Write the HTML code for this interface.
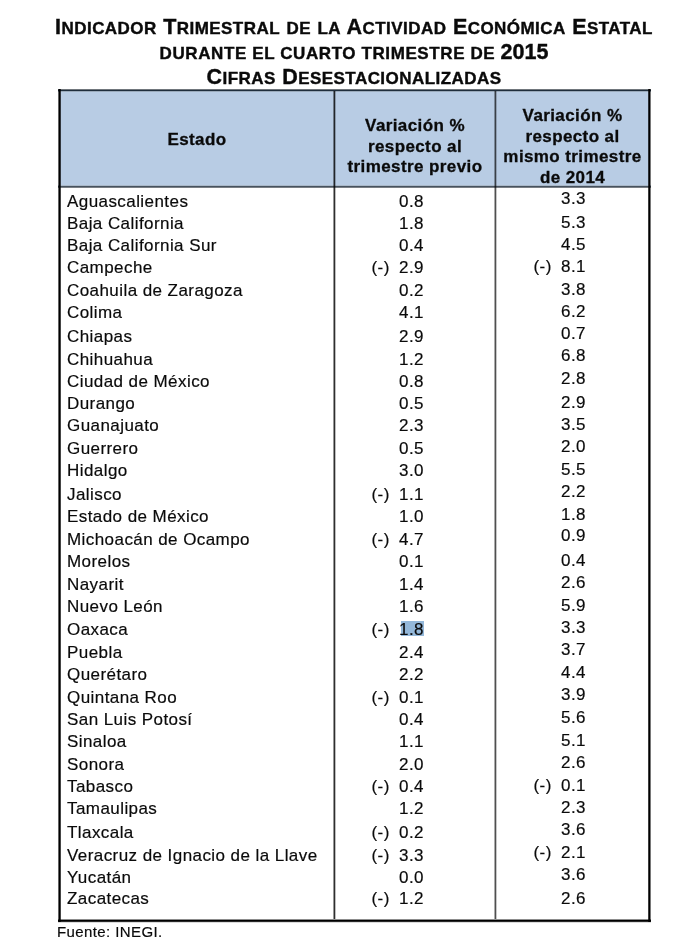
<!DOCTYPE html><html><head><meta charset="utf-8"><style>
html,body{margin:0;padding:0;background:#fff;}
body{width:700px;height:942px;position:relative;overflow:hidden;font-family:"Liberation Sans",sans-serif;color:#0a0a0a;}
.a{position:absolute;white-space:pre;line-height:1;}
#w{position:absolute;left:0;top:0;width:700px;height:942px;filter:blur(0.3px);}
.r{position:absolute;}
.t{font-weight:bold;color:#0a0a0a;-webkit-text-stroke:0.4px #0a0a0a;}
.h{font-weight:bold;font-size:17px;letter-spacing:0.4px;color:#0a0a0a;-webkit-text-stroke:0.3px #0a0a0a;text-align:center;}
.n{font-size:17px;letter-spacing:0.43px;-webkit-text-stroke:0.18px currentColor;}

</style></head><body>
<div class="r" style="left:60px;top:91px;width:589px;height:95px;background:#b8cce4"></div>
<div class="r" style="left:58px;top:89px;width:593px;height:3px;background:linear-gradient(180deg,#70767c 0px 1px,#1e2d3c 1px 2px,#9aaabb 2px 3px)"></div>
<div class="r" style="left:58px;top:185px;width:593px;height:3px;background:linear-gradient(180deg,#aab8c8 0px 1px,#46525f 1px 2px,#7a7f85 2px 3px)"></div>
<div class="r" style="left:58px;top:919px;width:593px;height:4px;background:linear-gradient(180deg,rgba(0,0,0,0.45) 0px 1px,rgba(0,0,0,1) 1px 2px,rgba(0,0,0,0.84) 2px 3px,rgba(0,0,0,0.14) 3px 4px)"></div>
<div class="r" style="left:333px;top:91px;width:3px;height:828px;background:linear-gradient(90deg,rgba(0,0,0,0.41) 0px 1px,rgba(0,0,0,0.82) 1px 2px,rgba(0,0,0,0.25) 2px 3px)"></div>
<div class="r" style="left:494px;top:91px;width:3px;height:828px;background:linear-gradient(90deg,rgba(0,0,0,0.33) 0px 1px,rgba(0,0,0,0.69) 1px 2px,rgba(0,0,0,0.22) 2px 3px)"></div>
<div class="r" style="left:58px;top:89px;width:3px;height:833px;background:linear-gradient(90deg,rgba(0,0,0,0.61) 0px 1px,rgba(0,0,0,1) 1px 2px,rgba(0,0,0,0.73) 2px 3px)"></div>
<div class="r" style="left:648px;top:89px;width:3px;height:833px;background:linear-gradient(90deg,rgba(0,0,0,0.76) 0px 1px,rgba(0,0,0,1) 1px 2px,rgba(0,0,0,0.53) 2px 3px)"></div>
<div class="r" style="left:401px;top:621px;width:23px;height:15px;background:#94b8da"></div>
<div id="w">
<div class="a t" style="left:0;width:708px;text-align:center;top:17.40px;letter-spacing:0.45px;font-size:21.5px"><span style="font-size:21.5px">I</span><span style="font-size:17px">NDICADOR</span> <span style="font-size:21.5px">T</span><span style="font-size:17px">RIMESTRAL</span> <span style="font-size:17px">DE</span> <span style="font-size:17px">LA</span> <span style="font-size:21.5px">A</span><span style="font-size:17px">CTIVIDAD</span> <span style="font-size:21.5px">E</span><span style="font-size:17px">CONÓMICA</span> <span style="font-size:21.5px">E</span><span style="font-size:17px">STATAL</span></div>
<div class="a t" style="left:0;width:708px;text-align:center;top:41.80px;letter-spacing:0.6px;font-size:21.5px"><span style="font-size:17px">DURANTE EL CUARTO TRIMESTRE DE </span><span style="font-size:21.5px;letter-spacing:0">2015</span></div>
<div class="a t" style="left:0;width:708px;text-align:center;top:66.80px;letter-spacing:0.45px;font-size:21.5px"><span style="font-size:21.5px">C</span><span style="font-size:17px">IFRAS</span> <span style="font-size:21.5px">D</span><span style="font-size:17px">ESESTACIONALIZADAS</span></div>
<div class="a h" style="left:61px;width:272px;top:131.41px">Estado</div>
<div class="a h" style="left:335px;width:160px;top:116.81px">Variación %</div>
<div class="a h" style="left:335px;width:160px;top:137.51px">respecto al</div>
<div class="a h" style="left:335px;width:160px;top:158.21px">trimestre previo</div>
<div class="a h" style="left:496px;width:153px;top:106.81px">Variación %</div>
<div class="a h" style="left:496px;width:153px;top:127.51px">respecto al</div>
<div class="a h" style="left:496px;width:153px;top:148.21px">mismo trimestre</div>
<div class="a h" style="left:496px;width:153px;top:168.91px">de 2014</div>
<div class="a n" style="left:67px;top:192.66px">Aguascalientes</div>
<div class="a n" style="left:399px;top:192.66px">0.8</div>
<div class="a n" style="left:561px;top:189.61px">3.3</div>
<div class="a n" style="left:67px;top:214.66px">Baja California</div>
<div class="a n" style="left:399px;top:214.66px">1.8</div>
<div class="a n" style="left:561px;top:213.51px">5.3</div>
<div class="a n" style="left:67px;top:237.16px">Baja California Sur</div>
<div class="a n" style="left:399px;top:237.16px">0.4</div>
<div class="a n" style="left:561px;top:235.81px">4.5</div>
<div class="a n" style="left:67px;top:259.31px">Campeche</div>
<div class="a n" style="left:371.5px;top:259.31px">(-)</div>
<div class="a n" style="left:399px;top:259.31px">2.9</div>
<div class="a n" style="left:533.5px;top:258.41px">(-)</div>
<div class="a n" style="left:561px;top:258.41px">8.1</div>
<div class="a n" style="left:67px;top:281.91px">Coahuila de Zaragoza</div>
<div class="a n" style="left:399px;top:281.91px">0.2</div>
<div class="a n" style="left:561px;top:280.71px">3.8</div>
<div class="a n" style="left:67px;top:304.21px">Colima</div>
<div class="a n" style="left:399px;top:304.21px">4.1</div>
<div class="a n" style="left:561px;top:302.91px">6.2</div>
<div class="a n" style="left:67px;top:327.81px">Chiapas</div>
<div class="a n" style="left:399px;top:327.81px">2.9</div>
<div class="a n" style="left:561px;top:325.21px">0.7</div>
<div class="a n" style="left:67px;top:350.71px">Chihuahua</div>
<div class="a n" style="left:399px;top:350.71px">1.2</div>
<div class="a n" style="left:561px;top:347.41px">6.8</div>
<div class="a n" style="left:67px;top:372.71px">Ciudad de México</div>
<div class="a n" style="left:399px;top:372.71px">0.8</div>
<div class="a n" style="left:561px;top:369.61px">2.8</div>
<div class="a n" style="left:67px;top:395.11px">Durango</div>
<div class="a n" style="left:399px;top:395.11px">0.5</div>
<div class="a n" style="left:561px;top:393.51px">2.9</div>
<div class="a n" style="left:67px;top:417.41px">Guanajuato</div>
<div class="a n" style="left:399px;top:417.41px">2.3</div>
<div class="a n" style="left:561px;top:415.81px">3.5</div>
<div class="a n" style="left:67px;top:439.71px">Guerrero</div>
<div class="a n" style="left:399px;top:439.71px">0.5</div>
<div class="a n" style="left:561px;top:438.41px">2.0</div>
<div class="a n" style="left:67px;top:462.31px">Hidalgo</div>
<div class="a n" style="left:399px;top:462.31px">3.0</div>
<div class="a n" style="left:561px;top:460.71px">5.5</div>
<div class="a n" style="left:67px;top:486.21px">Jalisco</div>
<div class="a n" style="left:371.5px;top:486.21px">(-)</div>
<div class="a n" style="left:399px;top:486.21px">1.1</div>
<div class="a n" style="left:561px;top:483.01px">2.2</div>
<div class="a n" style="left:67px;top:508.41px">Estado de México</div>
<div class="a n" style="left:399px;top:508.41px">1.0</div>
<div class="a n" style="left:561px;top:505.61px">1.8</div>
<div class="a n" style="left:67px;top:530.71px">Michoacán de Ocampo</div>
<div class="a n" style="left:371.5px;top:530.71px">(-)</div>
<div class="a n" style="left:399px;top:530.71px">4.7</div>
<div class="a n" style="left:561px;top:527.41px">0.9</div>
<div class="a n" style="left:67px;top:553.01px">Morelos</div>
<div class="a n" style="left:399px;top:553.01px">0.1</div>
<div class="a n" style="left:561px;top:551.71px">0.4</div>
<div class="a n" style="left:67px;top:575.51px">Nayarit</div>
<div class="a n" style="left:399px;top:575.51px">1.4</div>
<div class="a n" style="left:561px;top:574.01px">2.6</div>
<div class="a n" style="left:67px;top:597.91px">Nuevo León</div>
<div class="a n" style="left:399px;top:597.91px">1.6</div>
<div class="a n" style="left:561px;top:596.61px">5.9</div>
<div class="a n" style="left:67px;top:620.61px">Oaxaca</div>
<div class="a n" style="left:371.5px;top:620.61px">(-)</div>
<div class="a n" style="left:399px;top:620.61px">1.8</div>
<div class="a n" style="left:561px;top:618.91px">3.3</div>
<div class="a n" style="left:67px;top:644.01px">Puebla</div>
<div class="a n" style="left:399px;top:644.01px">2.4</div>
<div class="a n" style="left:561px;top:641.11px">3.7</div>
<div class="a n" style="left:67px;top:666.41px">Querétaro</div>
<div class="a n" style="left:399px;top:666.41px">2.2</div>
<div class="a n" style="left:561px;top:663.51px">4.4</div>
<div class="a n" style="left:67px;top:688.91px">Quintana Roo</div>
<div class="a n" style="left:371.5px;top:688.91px">(-)</div>
<div class="a n" style="left:399px;top:688.91px">0.1</div>
<div class="a n" style="left:561px;top:685.81px">3.9</div>
<div class="a n" style="left:67px;top:711.01px">San Luis Potosí</div>
<div class="a n" style="left:399px;top:711.01px">0.4</div>
<div class="a n" style="left:561px;top:709.41px">5.6</div>
<div class="a n" style="left:67px;top:733.21px">Sinaloa</div>
<div class="a n" style="left:399px;top:733.21px">1.1</div>
<div class="a n" style="left:561px;top:731.91px">5.1</div>
<div class="a n" style="left:67px;top:755.71px">Sonora</div>
<div class="a n" style="left:399px;top:755.71px">2.0</div>
<div class="a n" style="left:561px;top:754.21px">2.6</div>
<div class="a n" style="left:67px;top:778.01px">Tabasco</div>
<div class="a n" style="left:371.5px;top:778.01px">(-)</div>
<div class="a n" style="left:399px;top:778.01px">0.4</div>
<div class="a n" style="left:533.5px;top:776.71px">(-)</div>
<div class="a n" style="left:561px;top:776.71px">0.1</div>
<div class="a n" style="left:67px;top:800.31px">Tamaulipas</div>
<div class="a n" style="left:399px;top:800.31px">1.2</div>
<div class="a n" style="left:561px;top:798.91px">2.3</div>
<div class="a n" style="left:67px;top:824.21px">Tlaxcala</div>
<div class="a n" style="left:371.5px;top:824.21px">(-)</div>
<div class="a n" style="left:399px;top:824.21px">0.2</div>
<div class="a n" style="left:561px;top:821.41px">3.6</div>
<div class="a n" style="left:67px;top:846.71px">Veracruz de Ignacio de la Llave</div>
<div class="a n" style="left:371.5px;top:846.71px">(-)</div>
<div class="a n" style="left:399px;top:846.71px">3.3</div>
<div class="a n" style="left:533.5px;top:843.91px">(-)</div>
<div class="a n" style="left:561px;top:843.91px">2.1</div>
<div class="a n" style="left:67px;top:868.91px">Yucatán</div>
<div class="a n" style="left:399px;top:868.91px">0.0</div>
<div class="a n" style="left:561px;top:866.11px">3.6</div>
<div class="a n" style="left:67px;top:889.81px">Zacatecas</div>
<div class="a n" style="left:371.5px;top:889.81px">(-)</div>
<div class="a n" style="left:399px;top:889.81px">1.2</div>
<div class="a n" style="left:561px;top:889.91px">2.6</div>
<div class="a" style="left:57px;top:923.90px;font-size:15px;letter-spacing:0.4px;-webkit-text-stroke:0.18px currentColor">Fuente: INEGI.</div>
</div></body></html>
